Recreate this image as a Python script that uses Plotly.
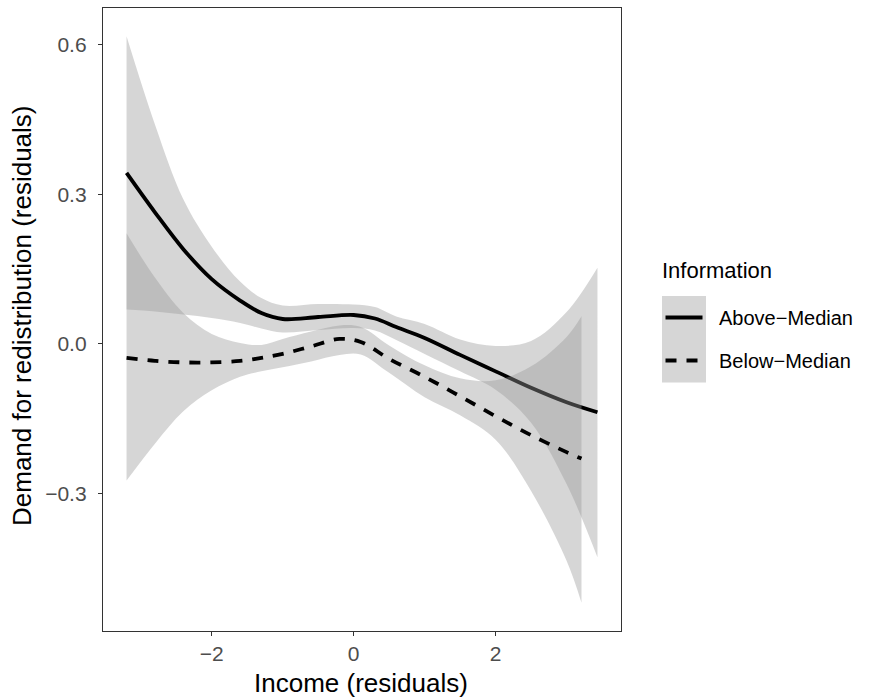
import plotly.graph_objects as go

# ---------------- data ----------------
above_x = [-3.2, -2.8, -2.4, -2.0, -1.6, -1.3, -1.0, -0.5, 0.0, 0.3, 0.6, 1.0, 1.5, 2.0, 2.5, 3.0, 3.435]
above_fit = [0.343, 0.264, 0.190, 0.130, 0.087, 0.062, 0.050, 0.054, 0.058, 0.051, 0.034, 0.012, -0.022, -0.055, -0.088, -0.117, -0.137]
above_hi = [0.617, 0.44, 0.29, 0.195, 0.125, 0.092, 0.077, 0.080, 0.079, 0.074, 0.055, 0.040, 0.009, -0.004, 0.006, 0.064, 0.153]
above_lo = [0.069, 0.065, 0.059, 0.052, 0.042, 0.031, 0.023, 0.028, 0.032, 0.027, 0.008, -0.020, -0.055, -0.092, -0.158, -0.281, -0.428]

below_x = [-3.2, -2.8, -2.4, -2.0, -1.6, -1.3, -1.0, -0.6, -0.2, 0.1, 0.5, 1.0, 1.5, 2.0, 2.5, 3.0, 3.21]
below_fit = [-0.028, -0.034, -0.037, -0.037, -0.034, -0.028, -0.020, -0.005, 0.010, 0.004, -0.030, -0.066, -0.105, -0.145, -0.183, -0.217, -0.230]
below_hi = [0.222, 0.133, 0.062, 0.020, 0.002, -0.002, 0.010, 0.025, 0.037, 0.034, -0.003, -0.043, -0.069, -0.073, -0.045, 0.014, 0.0555]
below_lo = [-0.274, -0.200, -0.135, -0.093, -0.066, -0.055, -0.047, -0.035, -0.022, -0.021, -0.058, -0.107, -0.143, -0.192, -0.295, -0.435, -0.519]

group_names = ["Above\u2212Median", "Below\u2212Median"]
x_tickvals = [-2, 0, 2]
x_ticktext = ["\u22122", "0", "2"]
y_tickvals = [0.6, 0.3, 0.0, -0.3]
y_ticktext = ["0.6", "0.3", "0.0", "\u22120.3"]

# ---------------- styles ----------------
W, H = 870, 698
ML, MR, MT, MB = 103, 249, 8, 67
RIBBON = "rgba(153,153,153,0.4)"
LW = 3.8
DASH = "11px,10px"
FONT = "Liberation Sans, Arial, sans-serif"
TICK_SIZE = 21
AXIS_TITLE_SIZE = 26
LEG_TITLE_SIZE = 22
LEG_TEXT_SIZE = 20

fig = go.Figure()

def add_group(xs, lo, hi, fit, dash):
    fig.add_trace(go.Scatter(x=xs, y=lo, mode="lines", line=dict(width=0, shape="spline", smoothing=1.0),
                             hoverinfo="skip", showlegend=False))
    fig.add_trace(go.Scatter(x=xs, y=hi, mode="lines", line=dict(width=0, shape="spline", smoothing=1.0),
                             fill="tonexty", fillcolor=RIBBON, hoverinfo="skip", showlegend=False))
    fig.add_trace(go.Scatter(x=xs, y=fit, mode="lines",
                             line=dict(color="black", width=LW, dash=dash, shape="spline", smoothing=1.0),
                             showlegend=False))

add_group(above_x, above_lo, above_hi, above_fit, "solid")
add_group(below_x, below_lo, below_hi, below_fit, DASH)

# ggplot-style 5% expansion
xmin = min(above_x + below_x); xmax = max(above_x + below_x)
ymin = min(above_lo + below_lo); ymax = max(above_hi + below_hi)
dx = (xmax - xmin) * 0.05; dy = (ymax - ymin) * 0.05

axis_common = dict(showgrid=False, zeroline=False, showline=True, mirror=True,
                   linecolor="#333333", linewidth=1.3, ticks="outside", ticklen=4,
                   tickcolor="#333333", tickwidth=1.1,
                   tickfont=dict(family=FONT, size=TICK_SIZE, color="#4D4D4D"))

fig.update_layout(
    width=W, height=H,
    margin=dict(l=ML, r=MR, t=MT, b=MB),
    paper_bgcolor="white", plot_bgcolor="white",
    showlegend=False,
    xaxis=dict(range=[xmin - dx, xmax + dx], tickvals=x_tickvals, ticktext=x_ticktext, **axis_common),
    yaxis=dict(range=[ymin - dy, ymax + dy], tickvals=y_tickvals, ticktext=y_ticktext,
               ticklabelstandoff=7, **axis_common),
)

pw = W - ML - MR
ph = H - MT - MB
def px(xp):
    return (xp - ML) / pw
def py(yp):
    return (H - MB - yp) / ph

# axis titles
fig.add_annotation(text="Income (residuals)", x=px(361), y=py(683), xref="paper", yref="paper",
                   showarrow=False, font=dict(family=FONT, size=AXIS_TITLE_SIZE, color="black"),
                   xanchor="center", yanchor="middle")
fig.add_annotation(text="Demand for redistribution (residuals)", x=px(22), y=py(316), xref="paper", yref="paper",
                   showarrow=False, textangle=-90, font=dict(family=FONT, size=AXIS_TITLE_SIZE, color="black"),
                   xanchor="center", yanchor="middle")

# legend (built manually to mimic ggplot key boxes)
fig.add_annotation(text="Information", x=px(660), y=py(270), xref="paper", yref="paper",
                   showarrow=False, font=dict(family=FONT, size=LEG_TITLE_SIZE, color="black"),
                   xanchor="left", yanchor="middle")
fig.add_shape(type="rect", x0=px(662), x1=px(706), y0=py(296), y1=py(382.5), xref="paper", yref="paper",
              fillcolor="rgba(153,153,153,0.4)", line=dict(width=0), layer="above")
key_y = [317.5, 360.5]
key_dash = ["solid", DASH]
for name, ky, kd in zip(group_names, key_y, key_dash):
    fig.add_shape(type="line", x0=px(665.5), x1=px(702.5), y0=py(ky), y1=py(ky), xref="paper", yref="paper",
                  line=dict(color="black", width=LW, dash=kd), layer="above")
    fig.add_annotation(text=name, x=px(717), y=py(ky), xref="paper", yref="paper",
                       showarrow=False, font=dict(family=FONT, size=LEG_TEXT_SIZE, color="black"),
                       xanchor="left", yanchor="middle")

fig.write_html("out.html")
